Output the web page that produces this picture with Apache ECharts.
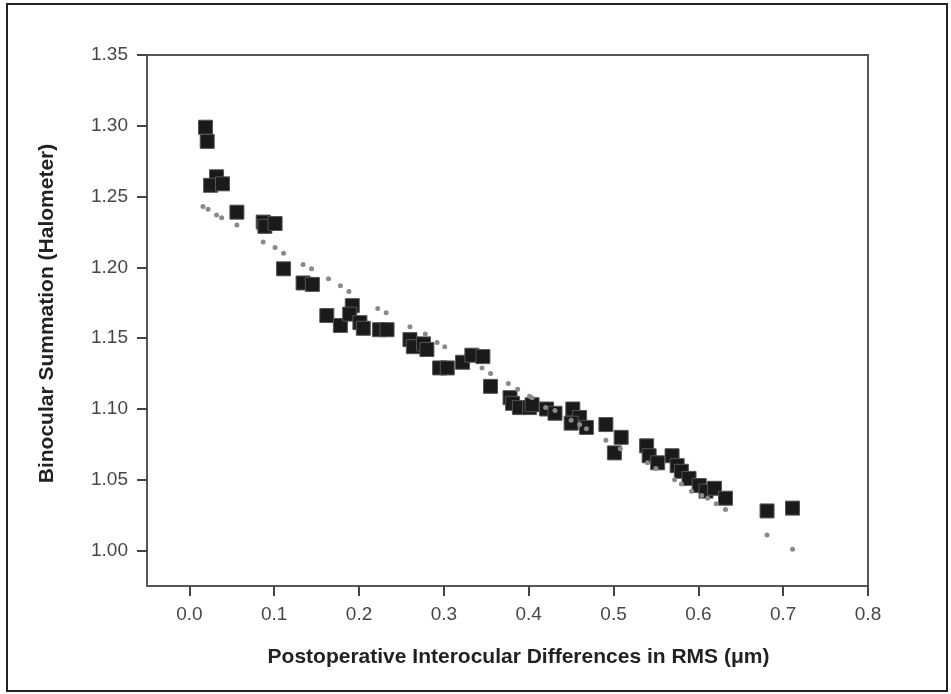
<!DOCTYPE html>
<html>
<head>
<meta charset="utf-8">
<script src="https://cdn.jsdelivr.net/npm/echarts@6/dist/echarts.min.js"></script>
<style>
  html, body { margin: 0; padding: 0; background: #fff; }
  #chart { width: 951px; height: 694px; }
</style>
</head>
<body>
<div id="chart"></div>
<script>
// measured points (squares): x = interocular RMS difference, y = binocular summation
const measuredX = [0.019, 0.021, 0.032, 0.025, 0.039, 0.056, 0.087, 0.089, 0.101, 0.111, 0.134, 0.145,
  0.162, 0.178, 0.192, 0.189, 0.201, 0.205, 0.224, 0.233, 0.260, 0.264, 0.276, 0.280, 0.295, 0.304,
  0.322, 0.333, 0.346, 0.355, 0.378, 0.381, 0.389, 0.401, 0.404, 0.421, 0.431, 0.452, 0.460, 0.450,
  0.468, 0.491, 0.509, 0.501, 0.539, 0.542, 0.552, 0.569, 0.575, 0.580, 0.589, 0.601, 0.609, 0.619,
  0.632, 0.681, 0.711];
const measuredY = [1.299, 1.289, 1.264, 1.258, 1.259, 1.239, 1.232, 1.229, 1.231, 1.199, 1.189, 1.188,
  1.166, 1.159, 1.173, 1.167, 1.161, 1.157, 1.156, 1.156, 1.149, 1.144, 1.146, 1.142, 1.129, 1.129,
  1.133, 1.138, 1.137, 1.116, 1.108, 1.104, 1.101, 1.101, 1.103, 1.100, 1.097, 1.100, 1.094, 1.090,
  1.087, 1.089, 1.080, 1.069, 1.074, 1.067, 1.062, 1.067, 1.060, 1.056, 1.051, 1.046, 1.042, 1.044,
  1.037, 1.028, 1.030];

// fitted values (grey dots)
const fitX = [0.016, 0.022, 0.032, 0.038, 0.056, 0.087, 0.101, 0.111, 0.134, 0.144, 0.164, 0.178,
  0.188, 0.222, 0.232, 0.260, 0.278, 0.292, 0.301, 0.345, 0.355, 0.376, 0.387, 0.401, 0.404, 0.420,
  0.431, 0.450, 0.460, 0.468, 0.491, 0.508, 0.540, 0.550, 0.572, 0.580, 0.592, 0.604, 0.611, 0.621,
  0.632, 0.681, 0.711];
const fitY = [1.243, 1.241, 1.237, 1.235, 1.230, 1.218, 1.214, 1.210, 1.202, 1.199, 1.192, 1.187,
  1.183, 1.171, 1.168, 1.158, 1.153, 1.147, 1.144, 1.129, 1.125, 1.118, 1.114, 1.109, 1.108, 1.101,
  1.099, 1.092, 1.089, 1.086, 1.078, 1.072, 1.062, 1.058, 1.050, 1.047, 1.042, 1.039, 1.037, 1.033,
  1.029, 1.011, 1.001];

const xTicks = [0.0, 0.1, 0.2, 0.3, 0.4, 0.5, 0.6, 0.7, 0.8];
const yTicks = [1.00, 1.05, 1.10, 1.15, 1.20, 1.25, 1.30, 1.35];

const zip = (a, b) => a.map((v, i) => [v, b[i]]);

let myChart = echarts.init(document.getElementById('chart'));

const labelFont = { fontFamily: 'Liberation Sans', fontSize: 19, color: '#474747' };

myChart.setOption({
    animation: false,
    backgroundColor: '#fff',
    grid: {
        left: 147, top: 55, right: 83, bottom: 108,
        show: true, borderColor: '#555', borderWidth: 2
    },
    graphic: [
        {
            type: 'rect',
            shape: { x: 7, y: 4, width: 940, height: 687 },
            style: { fill: 'none', stroke: '#222', lineWidth: 2 },
            silent: true
        }
    ],
    xAxis: {
        type: 'value',
        min: -0.05,
        max: 0.8,
        name: 'Postoperative Interocular Differences in RMS (\u03bcm)',
        nameLocation: 'middle',
        nameGap: 61,
        nameTextStyle: {
            fontFamily: 'Liberation Sans', fontSize: 21, fontWeight: 'bold', color: '#222',
            padding: [0, 0, 0, 22]
        },
        axisLine: { show: true, onZero: false, lineStyle: { color: '#555', width: 2 } },
        axisTick: { show: true, inside: false, length: 10, customValues: xTicks, lineStyle: { color: '#444', width: 2 } },
        axisLabel: {
            ...labelFont, margin: 19, customValues: xTicks,
            formatter: v => v.toFixed(1)
        },
        splitLine: { show: false }
    },
    yAxis: {
        type: 'value',
        min: 0.975,
        max: 1.35,
        name: 'Binocular Summation (Halometer)',
        nameLocation: 'middle',
        nameGap: 89,
        nameTextStyle: {
            fontFamily: 'Liberation Sans', fontSize: 21, fontWeight: 'bold', color: '#222',
            padding: [0, 0, 0, 14]
        },
        axisLine: { show: true, onZero: false, lineStyle: { color: '#555', width: 2 } },
        axisTick: { show: true, inside: false, length: 10, customValues: yTicks, lineStyle: { color: '#444', width: 2 } },
        axisLabel: {
            ...labelFont, margin: 19, customValues: yTicks,
            formatter: v => v.toFixed(2)
        },
        splitLine: { show: false }
    },
    series: [
        {
            name: 'measured',
            type: 'scatter',
            symbol: 'rect',
            symbolSize: 14,
            itemStyle: { color: '#1a1a1a', borderColor: '#555', borderWidth: 1, opacity: 1 },
            data: zip(measuredX, measuredY),
            z: 2
        },
        {
            name: 'fit',
            type: 'scatter',
            symbol: 'circle',
            symbolSize: 5,
            itemStyle: { color: '#8a8a8a', opacity: 1 },
            data: zip(fitX, fitY),
            z: 3
        }
    ]
});
</script>
</body>
</html>
